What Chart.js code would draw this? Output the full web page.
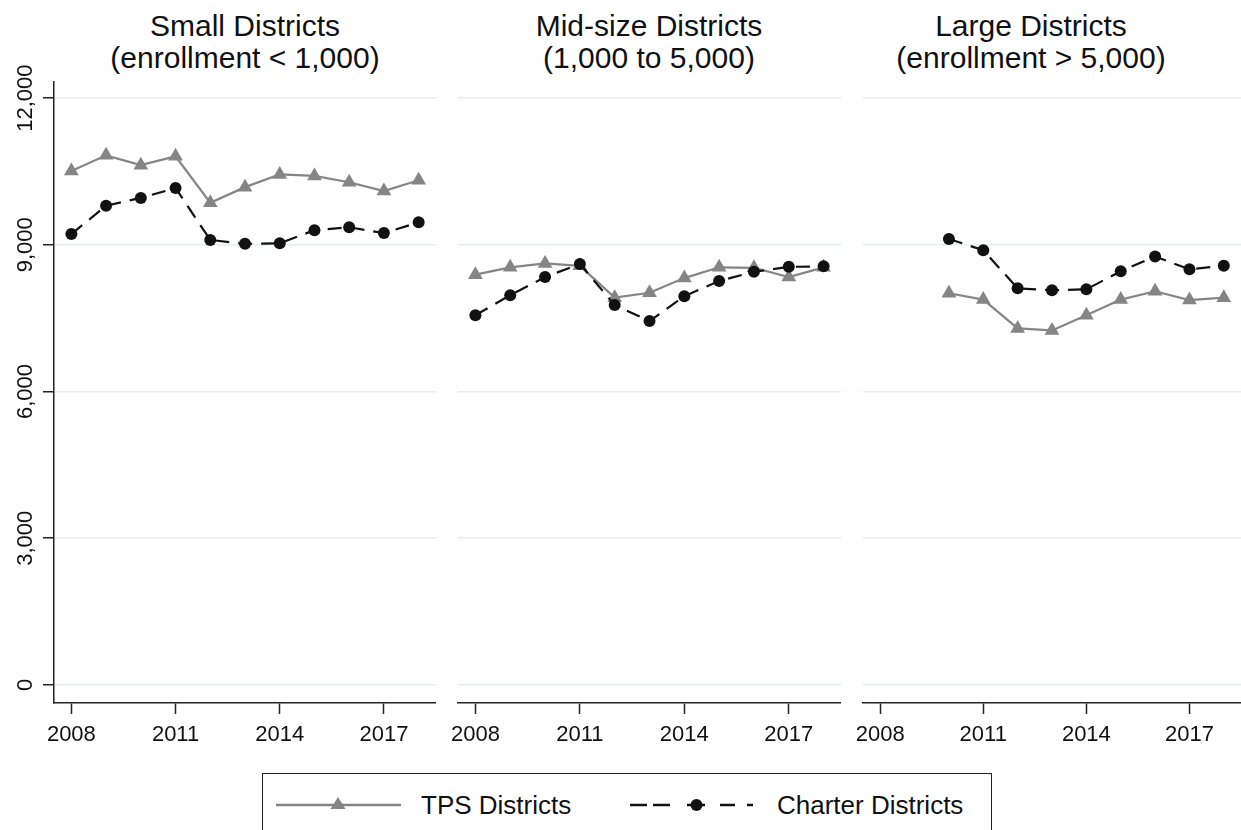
<!DOCTYPE html>
<html>
<head>
<meta charset="utf-8">
<script src="https://cdn.jsdelivr.net/npm/chart.js@4.4.0/dist/chart.umd.min.js"></script>
<style>
  body { margin: 0; background: #fff; width: 1241px; height: 830px; overflow: hidden; position: relative;
         font-family: "Liberation Sans", Arial, Helvetica, sans-serif; color: #111; }
  canvas { position: absolute; top: 50px; }
  .panelTitle { position: absolute; top: 10px; width: 420px; text-align: center; font-size: 30px; line-height: 32px; }
  #legendBox { position: absolute; left: 262px; top: 773px; width: 728px; height: 100px; border: 1.5px solid #222; }
  #legendMarks { position: absolute; left: 262px; top: 773px; }
  .legendText { position: absolute; top: 792px; font-size: 26px; line-height: 26px; white-space: nowrap; }
</style>
</head>
<body>
<div class="panelTitle" style="left:35px">Small Districts<br>(enrollment &lt; 1,000)</div>
<div class="panelTitle" style="left:439px">Mid-size Districts<br>(1,000 to 5,000)</div>
<div class="panelTitle" style="left:821px">Large Districts<br>(enrollment &gt; 5,000)</div>

<canvas id="smallChart" width="436" height="720" style="left:0px"></canvas>
<canvas id="midChart" width="401" height="720" style="left:440px"></canvas>
<canvas id="largeChart" width="396" height="720" style="left:845px"></canvas>

<div id="legendBox"></div>
<svg id="legendMarks" width="730" height="57">
  <line x1="14" y1="32" x2="139" y2="32" stroke="#858585" stroke-width="2.5"/>
  <polygon points="76,24 68.5,36 83.5,36" fill="#858585"/>
  <line x1="368" y1="32" x2="385" y2="32" stroke="#111" stroke-width="2.5"/>
  <line x1="391" y1="32" x2="408" y2="32" stroke="#111" stroke-width="2.5"/>
  <line x1="425" y1="32" x2="443" y2="32" stroke="#111" stroke-width="2.5"/>
  <line x1="458" y1="32" x2="473" y2="32" stroke="#111" stroke-width="2.5"/>
  <line x1="485" y1="32" x2="491" y2="32" stroke="#111" stroke-width="2.5"/>
  <circle cx="434.5" cy="32" r="6" fill="#111"/>
</svg>
<div class="legendText" style="left:421px">TPS Districts</div>
<div class="legendText" style="left:777px">Charter Districts</div>

<script>
const years = [2008, 2009, 2010, 2011, 2012, 2013, 2014, 2015, 2016, 2017, 2018];
const yearTicks = [2008, 2011, 2014, 2017];
const valueTicks = [0, 3000, 6000, 9000, 12000];

const smallTps = [10510, 10830, 10630, 10810, 9860, 10180, 10440, 10410, 10280, 10100, 10320];
const smallCharter = [9220, 9800, 9960, 10160, 9100, 9020, 9030, 9300, 9360, 9240, 9460];
const midTps = [8390, 8540, 8620, 8570, 7920, 8020, 8320, 8540, 8530, 8340, 8540];
const midCharter = [7560, 7970, 8340, 8610, 7770, 7440, 7950, 8260, 8450, 8550, 8560];
const largeTps = [null, null, 8010, 7880, 7290, 7250, 7560, 7880, 8050, 7870, 7920];
const largeCharter = [null, null, 9120, 8890, 8110, 8070, 8090, 8460, 8760, 8500, 8570];

const fontFamily = "'Liberation Sans', Arial, Helvetica, sans-serif";

// y tick labels in the reference are turned on their side
const rotatedYLabels = {
    id: "rotatedYLabels",
    afterDraw(chart) {
        const yScale = chart.scales.y;
        const ctx = chart.ctx;
        ctx.save();
        ctx.fillStyle = "#111";
        ctx.font = "22px " + fontFamily;
        ctx.textAlign = "center";
        ctx.textBaseline = "alphabetic";
        yScale.ticks.forEach(tick => {
            const y = yScale.getPixelForValue(tick.value);
            ctx.save();
            ctx.translate(yScale.right - 22, y);
            ctx.rotate(-Math.PI / 2);
            ctx.fillText(tick.value.toLocaleString("en-US"), 0, 0);
            ctx.restore();
        });
        ctx.restore();
    }
};

function toPoints(values) {
    return years.map((year, i) => ({ x: year, y: values[i] }));
}

function makePanel(canvasId, tpsValues, charterValues, showYAxis) {
    const ctx = document.getElementById(canvasId).getContext("2d");
    return new Chart(ctx, {
        type: "line",
        data: {
            datasets: [{
                label: "TPS Districts",
                data: toPoints(tpsValues),
                borderColor: "#858585",
                backgroundColor: "#858585",
                borderWidth: 2.2,
                pointStyle: "triangle",
                pointRadius: 8.5,
                pointBorderWidth: 0,
                tension: 0,
                order: 2
            }, {
                label: "Charter Districts",
                data: toPoints(charterValues),
                borderColor: "#111",
                backgroundColor: "#111",
                borderWidth: 2.2,
                borderDash: [14, 9],
                pointStyle: "circle",
                pointRadius: 6,
                pointBorderWidth: 0,
                tension: 0,
                order: 1
            }]
        },
        options: {
            responsive: false,
            animation: false,
            devicePixelRatio: 1,
            layout: { autoPadding: false, padding: { top: 32, left: showYAxis ? 0 : 18, right: 0, bottom: 0 } },
            plugins: {
                legend: { display: false },
                tooltip: { enabled: false },
                title: { display: false }
            },
            scales: {
                x: {
                    type: "linear",
                    min: 2007.5,
                    max: 2018.5,
                    afterBuildTicks: scale => { scale.ticks = yearTicks.map(v => ({ value: v })); },
                    afterFit: scale => { scale.height = 67; },
                    ticks: {
                        callback: value => String(value),
                        font: { family: fontFamily, size: 22 },
                        color: "#111",
                        padding: 8,
                        maxRotation: 0,
                        autoSkip: false
                    },
                    grid: { drawOnChartArea: false, drawTicks: true, tickLength: 11, tickColor: "#222", tickWidth: 1.5 },
                    border: { display: true, color: "#222", width: 1.5 }
                },
                y: {
                    type: "linear",
                    min: -370,
                    max: 12330,
                    afterBuildTicks: scale => { scale.ticks = valueTicks.map(v => ({ value: v })); },
                    afterFit: scale => { scale.width = showYAxis ? 54 : 0; },
                    ticks: { display: false },
                    grid: { color: "#e6eef0", lineWidth: 1.5, drawTicks: showYAxis, tickLength: 11, tickColor: "#222", tickWidth: 1.5 },
                    border: { display: showYAxis, color: "#222", width: 1.5 }
                }
            }
        },
        plugins: showYAxis ? [rotatedYLabels] : []
    });
}

makePanel("smallChart", smallTps, smallCharter, true);
makePanel("midChart", midTps, midCharter, false);
makePanel("largeChart", largeTps, largeCharter, false);
</script>
</body>
</html>
